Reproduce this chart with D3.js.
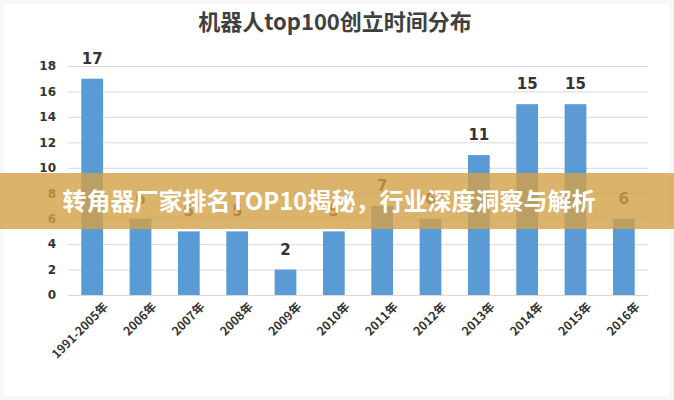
<!DOCTYPE html>
<html><head><meta charset="utf-8">
<script src="https://cdn.jsdelivr.net/npm/d3@7/dist/d3.min.js"></script>
<style>html,body{margin:0;padding:0;background:#fff;}svg{display:block;}</style>
</head><body>
<svg id="c" width="674" height="400"></svg>
<script>
const categories = ["1991-2005年","2006年","2007年","2008年","2009年","2010年","2011年","2012年","2013年","2014年","2015年","2016年"];
const values = [17,6,5,5,2,5,7,6,11,15,15,6];
const yTicks = [0,2,4,6,8,10,12,14,16,18];
const title = "机器人top100创立时间分布";
const banner = "转角器厂家排名TOP10揭秘，行业深度洞察与解析";

const svg = d3.select("#c");
svg.append("rect").attr("width",674).attr("height",400).attr("fill","#f7f7f7");
svg.append("rect").attr("x",4).attr("y",4).attr("width",666).attr("height",392).attr("fill","#fff");

const m = {l:68, r:26, t:66, b:105};
const W = 674, H = 400;
const x = d3.scaleBand().domain(categories).range([m.l, W-m.r]).paddingInner(0.55).paddingOuter(0.275);
const y = d3.scaleLinear().domain([0,18]).range([H-m.b, m.t]);

svg.append("text").attr("x",335).attr("y",30).attr("text-anchor","middle")
  .attr("font-family","'Noto Sans CJK SC',sans-serif").attr("font-weight","bold")
  .attr("font-size",22).attr("fill","#404040").text(title);

const ya = svg.append("g").attr("transform",`translate(${m.l},0)`)
  .call(d3.axisLeft(y).tickValues(yTicks).tickSize(-(W-m.l-m.r)).tickPadding(12));
ya.select(".domain").remove();
ya.selectAll(".tick line").attr("stroke","#d9d9d9");
ya.selectAll(".tick text").attr("font-family","'DejaVu Sans',sans-serif").attr("font-weight","bold")
  .attr("font-size",12).attr("fill","#333");

svg.append("g").selectAll("rect").data(values).join("rect")
  .attr("x",(d,i)=>x(categories[i])).attr("width",x.bandwidth())
  .attr("y",d=>y(d)).attr("height",d=>y(0)-y(d)).attr("fill","#5b9bd5");

svg.append("g").selectAll("text").data(values).join("text")
  .attr("x",(d,i)=>x(categories[i])+x.bandwidth()/2).attr("y",d=>y(d)-15)
  .attr("text-anchor","middle").attr("font-family","'DejaVu Sans',sans-serif")
  .attr("font-weight","bold").attr("font-size",15).attr("fill","#333").text(d=>d);

const xa = svg.append("g").attr("transform",`translate(0,${H-m.b})`)
  .call(d3.axisBottom(x).tickSize(0).tickPadding(8));
xa.select(".domain").attr("stroke","#d9d9d9");
xa.selectAll(".tick text").attr("font-family","'Noto Sans CJK SC',sans-serif").attr("font-weight","bold")
  .attr("font-size",12).attr("fill","#333").attr("text-anchor","end")
  .attr("transform","translate(8,4) rotate(-45)").attr("dy","0.35em");

svg.append("rect").attr("x",0).attr("y",173).attr("width",W).attr("height",56)
  .attr("fill","rgba(211,160,70,0.8)");
svg.append("text").attr("x",329).attr("y",210).attr("text-anchor","middle")
  .attr("font-family","'Noto Sans CJK SC',sans-serif").attr("font-weight","bold")
  .attr("font-size",24).attr("fill","#fff").text(banner);
</script>
</body></html>
